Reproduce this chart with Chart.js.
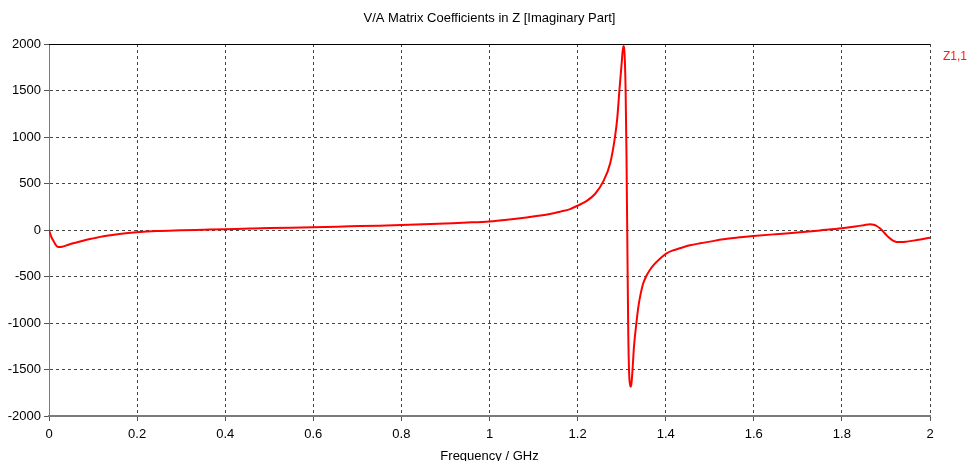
<!DOCTYPE html>
<html>
<head>
<meta charset="utf-8">
<script src="https://cdn.jsdelivr.net/npm/chart.js@4/dist/chart.umd.min.js"></script>
<style>
    html, body { margin: 0; padding: 0; background: #fff; }
    #wrap { width: 968px; height: 461px; }
</style>
</head>
<body>
<div id="wrap"><canvas id="zChart" width="968" height="461"></canvas></div>
<script>
// Frequency in GHz and imaginary part of Z1,1
const freq = [
    0, 0.005, 0.011, 0.016, 0.021, 0.03, 0.04, 0.055, 0.075, 0.093,
    0.11, 0.131, 0.16, 0.199, 0.244, 0.3, 0.35, 0.4, 0.456, 0.5,
    0.6, 0.683, 0.75, 0.8, 0.85, 0.9, 0.95, 1.0, 1.04, 1.084,
    1.11, 1.137, 1.16, 1.183, 1.2, 1.22, 1.24, 1.258, 1.274, 1.285,
    1.29, 1.295, 1.3, 1.3038, 1.3065, 1.309, 1.311, 1.313, 1.315, 1.317,
    1.319, 1.3205, 1.3225, 1.325, 1.328, 1.333, 1.338, 1.343, 1.349, 1.356,
    1.364, 1.372, 1.38, 1.39, 1.402, 1.415, 1.432, 1.455, 1.478, 1.5,
    1.531, 1.56, 1.599, 1.65, 1.705, 1.75, 1.8, 1.83, 1.85, 1.864,
    1.872, 1.879, 1.887, 1.894, 1.901, 1.909, 1.916, 1.924, 1.935, 1.947,
    1.97, 2.0
];
const zImag = [
    0, -70, -125, -165, -183, -180, -165, -143, -118, -97,
    -80, -61, -43, -25, -11, -3, 3, 9, 16, 21,
    29, 39, 47, 54, 62, 71, 80, 92, 110, 135,
    152, 172, 197, 225, 262, 310, 390, 520, 717, 1004,
    1200, 1505, 1792, 1978, 1900, 1505, 800, -180, -1100, -1541,
    -1660, -1685, -1640, -1480, -1254, -1020, -824, -690, -573, -495,
    -430, -380, -340, -295, -251, -222, -197, -165, -143, -125,
    -100, -83, -65, -45, -25, -5, 18, 38, 52, 61,
    57, 43, 15, -18, -55, -90, -115, -129, -130, -125,
    -108, -83
];

const xTicks = [0, 0.2, 0.4, 0.6, 0.8, 1, 1.2, 1.4, 1.6, 1.8, 2];
const yTicks = [-2000, -1500, -1000, -500, 0, 500, 1000, 1500, 2000];

const FONT = 'Liberation Sans, Arial, sans-serif';

// top frame line and the series name to the right of the plot
const frameAndLabel = {
    id: 'frameAndLabel',
    afterDraw(chart) {
        const { ctx, chartArea } = chart;
        ctx.save();
        ctx.strokeStyle = '#000';
        ctx.lineWidth = 1;
        ctx.beginPath();
        ctx.moveTo(chartArea.left, chartArea.top + 0.5);
        ctx.lineTo(chartArea.right, chartArea.top + 0.5);
        ctx.stroke();

        ctx.fillStyle = '#ff1a1a';
        ctx.font = '12px ' + FONT;
        ctx.textBaseline = 'middle';
        ctx.textAlign = 'left';
        ctx.fillText(chart.data.datasets[0].label, chartArea.right + 13, chartArea.top + 13);
        ctx.restore();
    }
};

new Chart(document.getElementById('zChart'), {
    type: 'line',
    data: {
        datasets: [{
            label: 'Z1,1',
            data: freq.map((f, i) => ({ x: f, y: zImag[i] })),
            borderColor: '#ff0000',
            borderWidth: 2,
            pointRadius: 0,
            cubicInterpolationMode: 'monotone',
            fill: false
        }]
    },
    options: {
        responsive: false,
        animation: false,
        layout: { padding: { left: 0, right: 38, top: 0, bottom: 0 } },
        plugins: {
            legend: { display: false },
            tooltip: { enabled: false },
            title: {
                display: true,
                fullSize: false,
                text: 'V/A Matrix Coefficients in Z [Imaginary Part]',
                color: '#000',
                font: { family: FONT, size: 13, weight: 'normal' },
                padding: { top: 11, bottom: 17.4 }
            }
        },
        scales: {
            x: {
                type: 'linear',
                min: 0,
                max: 2,
                afterBuildTicks: (scale) => { scale.ticks = xTicks.map(v => ({ value: v })); },
                afterFit: (scale) => { scale.height = 45; },
                ticks: {
                    color: '#000',
                    font: { family: FONT, size: 13 },
                    padding: 6,
                    maxRotation: 0,
                    callback: (v) => String(+v.toFixed(1))
                },
                grid: {
                    color: '#444',
                    lineWidth: 1,
                    tickLength: 5,
                    tickColor: '#555',
                    tickBorderDash: []
                },
                border: { display: true, color: '#7a7a7a', width: 2, dash: [3, 3] },
                title: {
                    display: true,
                    text: 'Frequency / GHz',
                    color: '#000',
                    font: { family: FONT, size: 13 },
                    padding: { top: 0, bottom: -3.5 }
                }
            },
            y: {
                type: 'linear',
                min: -2000,
                max: 2000,
                afterBuildTicks: (scale) => { scale.ticks = yTicks.map(v => ({ value: v })); },
                afterFit: (scale) => { scale.width = 49; },
                ticks: {
                    color: '#000',
                    font: { family: FONT, size: 13 },
                    padding: 3,
                    callback: (v) => String(v)
                },
                grid: {
                    color: '#444',
                    lineWidth: 1,
                    tickLength: 5,
                    tickColor: '#555',
                    tickBorderDash: []
                },
                border: { display: true, color: '#7a7a7a', width: 1, dash: [3, 3] }
            }
        }
    },
    plugins: [frameAndLabel]
});
</script>
</body>
</html>
